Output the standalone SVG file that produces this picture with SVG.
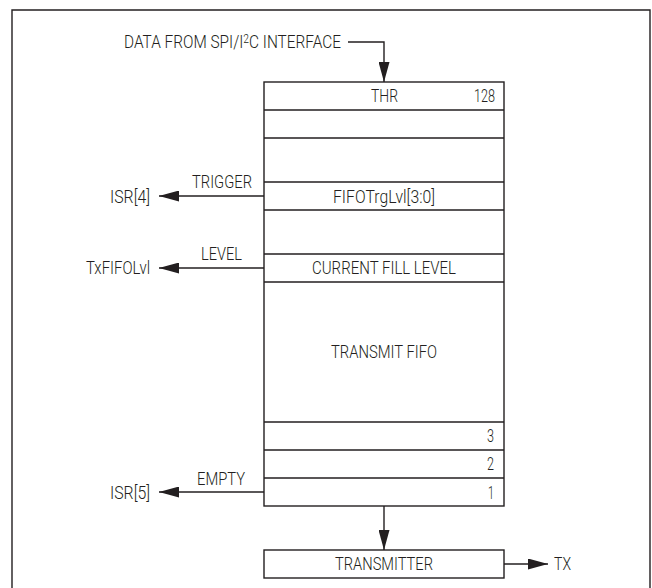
<svg xmlns="http://www.w3.org/2000/svg" width="652" height="588" viewBox="0 0 652 588">
<defs>
<style>
text{font-family:Roboto,"Liberation Sans",Arial,sans-serif;font-weight:300;font-size:18px;fill:#231f20}
.box{fill:#fff;stroke:#231f20;stroke-width:1.4}
.ln{stroke:#231f20;stroke-width:1.4;fill:none}
</style>
<marker id="ah" viewBox="0 0 20 11" refX="20" refY="5.5" markerWidth="20" markerHeight="11" markerUnits="userSpaceOnUse" orient="auto">
<path d="M0,0 L20,5.5 L0,11 Z" fill="#231f20"/>
</marker>
</defs>
<rect width="652" height="588" fill="#fff"/>
<path class="ln" d="M12,592 V10 H650 V592" stroke-width="2"/>
<g id="fifo">
<rect class="box" x="264" y="82" width="240" height="424"/>
<path class="ln" d="M264,110 H504 M264,138 H504 M264,182 H504 M264,210 H504 M264,254 H504 M264,282 H504 M264,422 H504 M264,450 H504 M264,478 H504"/>
<text x="371" y="102" textLength="27" lengthAdjust="spacingAndGlyphs">THR</text>
<text x="474" y="102" textLength="21" lengthAdjust="spacingAndGlyphs">128</text>
<text x="333" y="203" textLength="102" lengthAdjust="spacingAndGlyphs">FIFOTrgLvl[3:0]</text>
<text x="312" y="274" textLength="144" lengthAdjust="spacingAndGlyphs">CURRENT FILL LEVEL</text>
<text x="331" y="358" textLength="106" lengthAdjust="spacingAndGlyphs">TRANSMIT FIFO</text>
<text x="487" y="442" textLength="7" lengthAdjust="spacingAndGlyphs">3</text>
<text x="487" y="470" textLength="7" lengthAdjust="spacingAndGlyphs">2</text>
<text x="488" y="499" textLength="6" lengthAdjust="spacingAndGlyphs">1</text>
</g>
<g id="transmitter">
<rect class="box" x="264" y="550" width="240" height="28"/>
<text x="335" y="570" textLength="98" lengthAdjust="spacingAndGlyphs">TRANSMITTER</text>
</g>
<g id="labels">
<text transform="translate(124,48) scale(0.832,1)" textLength="260.8" lengthAdjust="spacingAndGlyphs">DATA FROM SPI/I<tspan font-size="12" dy="-5">2</tspan><tspan dy="5">C INTERFACE</tspan></text>
<text x="192" y="188" textLength="60" lengthAdjust="spacingAndGlyphs">TRIGGER</text>
<text x="110" y="203" textLength="40" lengthAdjust="spacingAndGlyphs">ISR[4]</text>
<text x="201" y="260" textLength="41" lengthAdjust="spacingAndGlyphs">LEVEL</text>
<text x="86" y="274" textLength="64" lengthAdjust="spacingAndGlyphs">TxFIFOLvl</text>
<text x="197" y="485" textLength="48" lengthAdjust="spacingAndGlyphs">EMPTY</text>
<text x="110" y="499" textLength="40" lengthAdjust="spacingAndGlyphs">ISR[5]</text>
<text x="554" y="570" textLength="17" lengthAdjust="spacingAndGlyphs">TX</text>
</g>
<g id="connectors">
<path class="ln" d="M348,42 H384 V82" marker-end="url(#ah)"/>
<path class="ln" d="M264,196 H159" marker-end="url(#ah)"/>
<path class="ln" d="M264,268 H159" marker-end="url(#ah)"/>
<path class="ln" d="M264,492 H159" marker-end="url(#ah)"/>
<path class="ln" d="M384,506 V550" marker-end="url(#ah)"/>
<path class="ln" d="M504,564 H548" marker-end="url(#ah)"/>
</g>
</svg>
